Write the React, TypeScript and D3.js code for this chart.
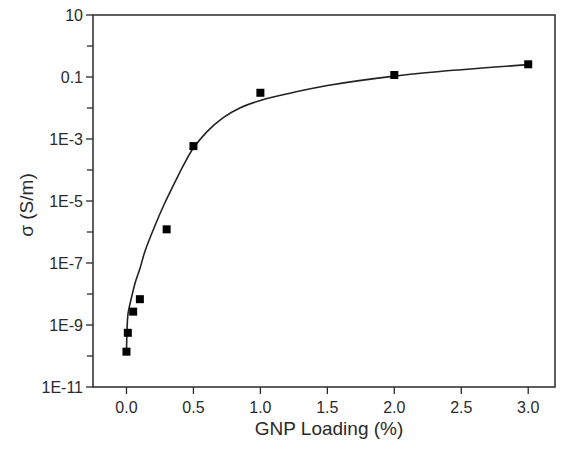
import React from 'react';
import * as d3 from 'd3';

// measured points
const loading = [0, 0.01, 0.05, 0.1, 0.3, 0.5, 1.0, 2.0, 3.0];
const sigma = [1.38e-10, 5.6e-10, 2.7e-9, 6.8e-9, 1.22e-6, 5.9e-4, 0.031, 0.116, 0.257];

// fitted curve
const fitX = [0, 0.003, 0.012, 0.035, 0.065, 0.1, 0.137, 0.21, 0.286, 0.36, 0.43, 0.5, 0.6, 0.72, 0.85, 1.0, 1.22, 1.5, 2.0, 2.5, 3.0];
const fitY = [1.1e-10, 4.8e-10, 2.4e-9, 6.9e-9, 2.3e-8, 6.5e-8, 2.3e-7, 1.5e-6, 8.6e-6, 3.9e-5, 1.55e-4, 5.1e-4, 1.7e-3, 4.8e-3, 1.02e-2, 1.75e-2, 3.0e-2, 5.3e-2, 0.107, 0.172, 0.25];

const xTicks = [0, 0.5, 1.0, 1.5, 2.0, 2.5, 3.0];
const yTicks = [10, 0.1, 1e-3, 1e-5, 1e-7, 1e-9, 1e-11];
const yTickLabels = ['10', '0.1', '1E-3', '1E-5', '1E-7', '1E-9', '1E-11'];
const yMinor = [1, 1e-2, 1e-4, 1e-6, 1e-8, 1e-10];

const W = 563;
const H = 450;
const left = 93;
const right = 555;
const top = 15;
const bottom = 387;

const App = () => {
  const x = d3.scaleLinear().domain([-0.25, 3.2]).range([left, right]);
  const y = d3.scaleLog().domain([1e-11, 10]).range([bottom, top]);

  const line = d3
    .line<number>()
    .x((d, i) => x(fitX[i]))
    .y((d) => y(d))
    .curve(d3.curveCatmullRom.alpha(0.5));

  const font = 'Liberation Sans, Arial, sans-serif';
  const ink = '#2a2a2a';

  return (
    <svg
      width={W}
      height={H}
      style={{ position: 'absolute', left: 0, top: 0, background: '#fff' }}
      fontFamily={font}
    >
      <rect x={left} y={top} width={right - left} height={bottom - top} fill="none" stroke={ink} strokeWidth={1.5} />

      {/* y ticks */}
      {yTicks.map((t, i) => (
        <g key={'y' + i}>
          <line x1={left - 7} x2={left} y1={y(t)} y2={y(t)} stroke={ink} strokeWidth={1.3} />
          <text x={left - 10} y={y(t)} dy="0.36em" textAnchor="end" fontSize={16} fill={ink}>
            {yTickLabels[i]}
          </text>
        </g>
      ))}
      {yMinor.map((t, i) => (
        <line key={'ym' + i} x1={left - 6} x2={left} y1={y(t)} y2={y(t)} stroke={ink} strokeWidth={1.3} />
      ))}

      {/* x ticks */}
      {xTicks.map((t, i) => (
        <g key={'x' + i}>
          <line x1={x(t)} x2={x(t)} y1={bottom} y2={bottom + 7} stroke={ink} strokeWidth={1.3} />
          <text x={x(t)} y={bottom + 26} textAnchor="middle" fontSize={16} fill={ink}>
            {d3.format('.1f')(t)}
          </text>
        </g>
      ))}

      <text x={(left + right) / 2 + 5} y={435} textAnchor="middle" fontSize={19} fill={ink}>
        GNP Loading (%)
      </text>
      <text
        transform={`translate(33, ${(top + bottom) / 2 + 4}) rotate(-90)`}
        textAnchor="middle"
        fontSize={19}
        fill={ink}
      >
        σ (S/m)
      </text>

      <path d={line(fitY) || ''} fill="none" stroke="#222" strokeWidth={1.6} />

      {loading.map((v, i) => (
        <rect key={'p' + i} x={x(v) - 4} y={y(sigma[i]) - 4} width={8} height={8} fill="#000" />
      ))}
    </svg>
  );
};

export default App;
